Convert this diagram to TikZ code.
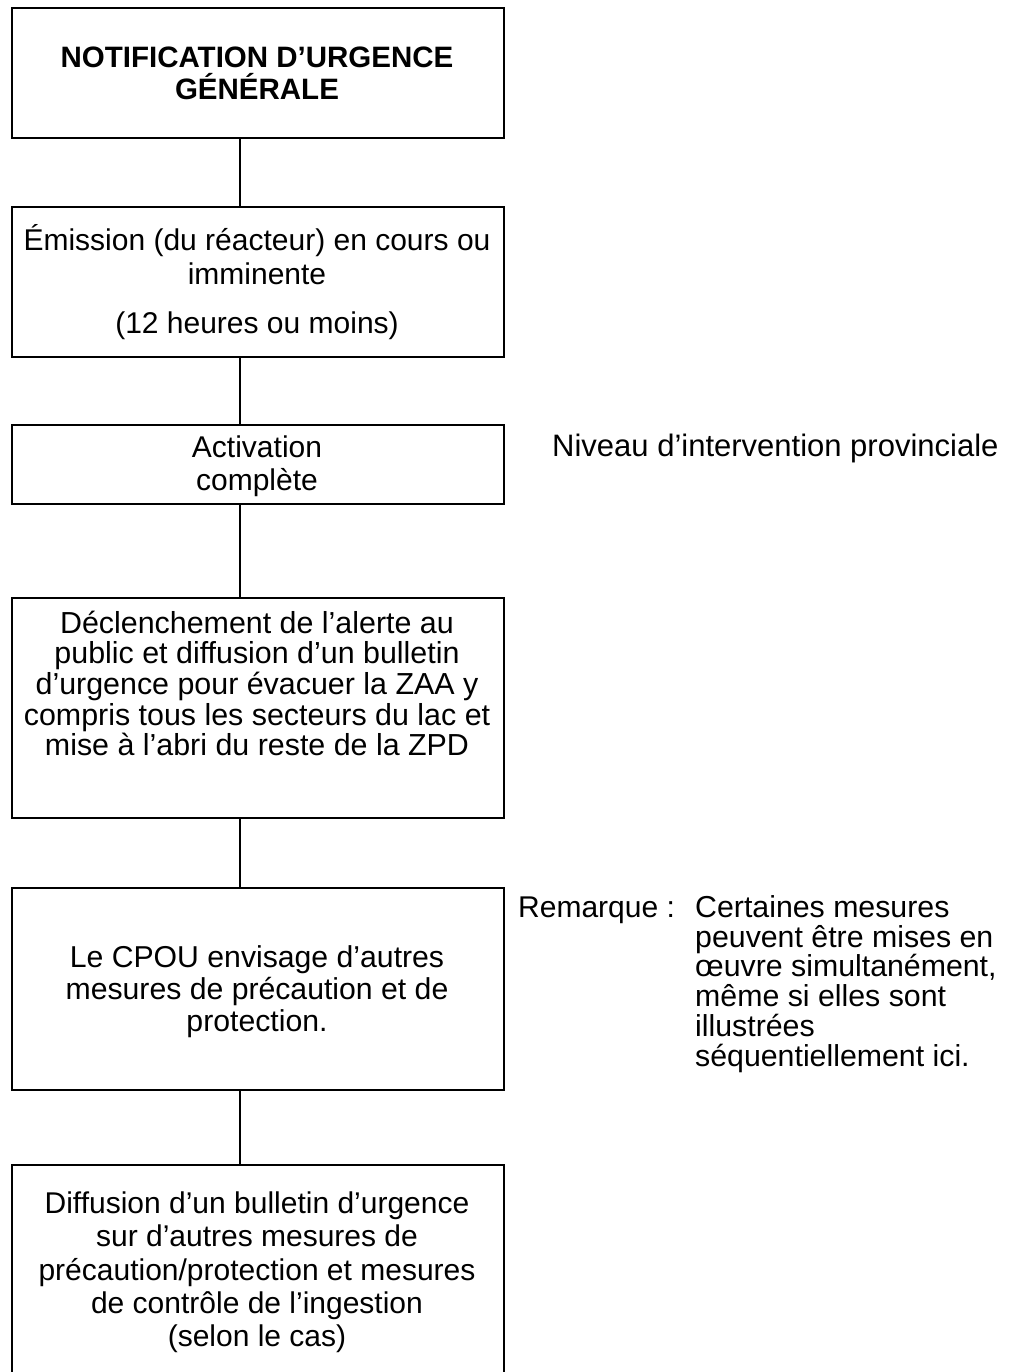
\documentclass[tikz,border=0pt]{standalone}
\usepackage{fontspec}
\setmainfont{Liberation Sans}
\newcommand\tstr{\rule{0pt}{28pt}}
\newcommand\bstr{\rule[-8pt]{0pt}{8pt}}
\begin{document}
\begin{tikzpicture}[x=1pt,y=-1pt,
  box/.style={draw, line width=2pt, minimum width=492pt, inner sep=0pt, anchor=north west},
  txt/.style={align=center, inner sep=0pt},
  side/.style={align=left, inner sep=0pt},
  conn/.style={line width=2pt}]
\useasboundingbox (0,0) rectangle (1015,1372);
\clip (0,0) rectangle (1015,1372);
\fill[white] (0,0) rectangle (1015,1372);
% boxes
\node[box, minimum height=130pt] (b1) at (11,7) {};
\node[box, minimum height=150pt] (b2) at (11,206) {};
\node[box, minimum height=79pt]  (b3) at (11,424) {};
\node[box, minimum height=220pt] (b4) at (11,597) {};
\node[box, minimum height=202pt] (b5) at (11,887) {};
\node[box, minimum height=226pt] (b6) at (11,1164) {};
% texts
\node[txt, font=\fontsize{29.5}{32}\selectfont\bfseries] (t1) at (257,74)
  {\tstr NOTIFICATION D’URGENCE\\ GÉNÉRALE\bstr};
\node[txt, font=\fontsize{30}{34}\selectfont] (t2) at (257,282)
  {\tstr Émission (du réacteur) en cours ou\\ imminente\\[15pt] (12 heures ou moins)\bstr};
\node[txt, font=\fontsize{30}{33}\selectfont] (t3) at (257,464)
  {\tstr Activation\\ complète\bstr};
\node[txt, font=\fontsize{30.4}{30.6}\selectfont] (t4) at (257,684.5)
  {\tstr Déclenchement de l’alerte au\\ public et diffusion d’un bulletin\\ d’urgence pour évacuer la ZAA y\\ compris tous les secteurs du lac et\\ mise à l’abri du reste de la ZPD\bstr};
\node[txt, font=\fontsize{30.2}{32}\selectfont] (t5) at (257,989)
  {\tstr Le CPOU envisage d’autres\\ mesures de précaution et de\\ protection.\bstr};
\node[txt, font=\fontsize{30}{33.2}\selectfont] (t6) at (257,1270)
  {\tstr Diffusion d’un bulletin d’urgence\\ sur d’autres mesures de\\ précaution/protection et mesures\\ de contrôle de l’ingestion\\ (selon le cas)\bstr};
% side texts
\node[side, anchor=base west, font=\fontsize{31}{31}\selectfont] (niv) at (552,456)
  {Niveau d’intervention provinciale};
\node[side, anchor=base west, font=\fontsize{30}{30}\selectfont] (rem) at (518,917)
  {Remarque :};
\node[side, anchor=north west, font=\fontsize{30.3}{29.8}\selectfont] (note) at (695,889)
  {\tstr Certaines mesures\\ peuvent être mises en\\ œuvre simultanément,\\ même si elles sont\\ illustrées\\ séquentiellement ici.};
% connectors
\coordinate (sp) at (240,0);
\draw[conn] (b1.south -| sp) -- (b2.north -| sp);
\draw[conn] (b2.south -| sp) -- (b3.north -| sp);
\draw[conn] (b3.south -| sp) -- (b4.north -| sp);
\draw[conn] (b4.south -| sp) -- (b5.north -| sp);
\draw[conn] (b5.south -| sp) -- (b6.north -| sp);
\end{tikzpicture}
\end{document}
